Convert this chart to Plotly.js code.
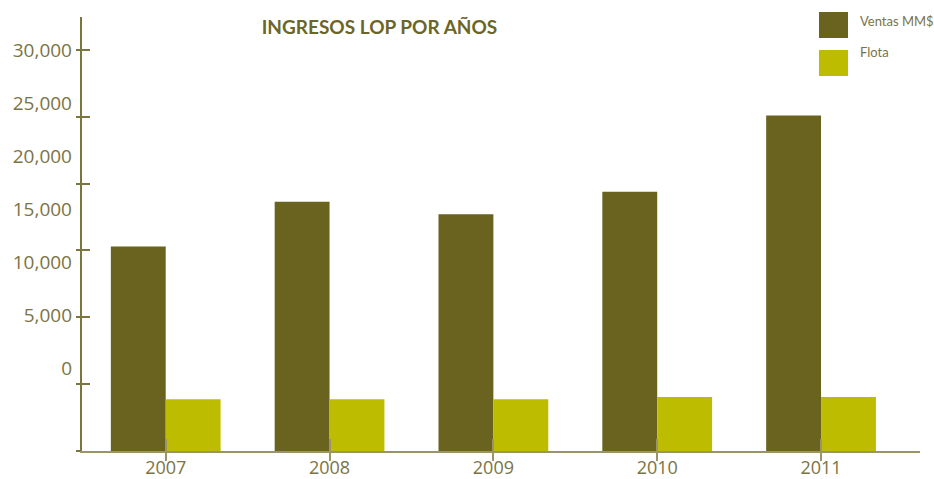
<!DOCTYPE html>
<html>
<head>
<meta charset="utf-8">
<script src="https://cdn.plot.ly/plotly-3.0.1.min.js"></script>
<style>html,body{margin:0;padding:0;background:#fff;}#chart{width:934px;height:479px;}</style>
</head>
<body>
<div id="chart"></div>
<script>
// ---- data ----
const years = ["2007", "2008", "2009", "2010", "2011"];
const ventas = [15300, 18650, 17700, 19400, 25100];
const flota = [3880, 3880, 3880, 4030, 4030];
const seriesNames = ["Ventas MM$", "Flota"];
const yTickValues = [0, 5000, 10000, 15000, 20000, 25000, 30000];
const yTickLabels = ["0", "5,000", "10,000", "15,000", "20,000", "25,000", "30,000"];
const titleText = "INGRESOS LOP POR AÑOS";

const dark = "#69631f";
const light = "#bdbc00";
const axisCol = "#7b7540";
const labelCol = "#7a7444";
const xLineCol = "#9a9468";

const idx = years.map((_, i) => i);

const traces = [
  {type: "bar", x: years, y: ventas, name: seriesNames[0], marker: {color: dark}, hoverinfo: "x+y+name"},
  {type: "bar", x: years, y: flota, name: seriesNames[1], marker: {color: light}, hoverinfo: "x+y+name"},
  // invisible helpers so the overlay axes (label axis and crossing ticks) get drawn
  {type: "scatter", mode: "none", x: idx, y: ventas, xaxis: "x2", yaxis: "y2", showlegend: false, hoverinfo: "skip"},
  {type: "scatter", mode: "none", x: years, y: ventas, xaxis: "x", yaxis: "y3", showlegend: false, hoverinfo: "skip"}
];

const layout = {
  width: 934, height: 479,
  margin: {l: 82, r: 14, t: 17, b: 28},
  paper_bgcolor: "#fff", plot_bgcolor: "#fff",
  showlegend: false,
  barmode: "group", bargap: 0.33, bargroupgap: 0,
  font: {family: "Open Sans", color: labelCol, size: 18},
  title: {text: titleText, x: 379.5 / 934, xanchor: "center", xref: "container", y: 1 - 27 / 479, yanchor: "middle", yref: "container",
          font: {family: "Lato", size: 19, color: "#6b6628", weight: 700}},
  xaxis: {type: "category", range: [-0.511, 4.604], showline: true, linecolor: xLineCol, linewidth: 2,
          ticks: "outside", ticklen: 8, tickcolor: xLineCol, tickwidth: 2, showgrid: false, zeroline: false,
          ticklabelstandoff: -9,
          tickfont: {family: "Open Sans", size: 18, color: labelCol}, fixedrange: true},
  xaxis2: {overlaying: "x", anchor: "y", type: "linear", range: [-0.511, 4.604], tickvals: idx, ticks: "inside",
           ticklen: 12, tickcolor: xLineCol, tickwidth: 2, showticklabels: false, showline: false, showgrid: false, zeroline: false},
  yaxis: {range: [0, 32463], tickvals: yTickValues, showticklabels: false, ticks: "outside", ticklen: 4,
          tickcolor: axisCol, tickwidth: 2, showline: true, linecolor: axisCol, linewidth: 2, showgrid: false, zeroline: false},
  yaxis3: {overlaying: "y", anchor: "x", side: "left", range: [0, 32463], tickvals: yTickValues, showticklabels: false,
           ticks: "inside", ticklen: 8, tickcolor: axisCol, tickwidth: 2, showline: false, showgrid: false, zeroline: false},
  yaxis2: {overlaying: "y", anchor: "x", side: "left", range: [-7805, 33102], tickvals: yTickValues, ticktext: yTickLabels,
           ticks: "", showline: false, showgrid: false, zeroline: false, ticklabelstandoff: 9,
           tickfont: {family: "Open Sans", size: 19, color: labelCol}},
  shapes: [
    {type: "rect", xref: "paper", yref: "paper", x0: (819 - 82) / 838, x1: (848 - 82) / 838,
     y0: (451 - 38) / 434, y1: (451 - 12) / 434, fillcolor: dark, line: {width: 0}},
    {type: "rect", xref: "paper", yref: "paper", x0: (819 - 82) / 838, x1: (848 - 82) / 838,
     y0: (451 - 76) / 434, y1: (451 - 50) / 434, fillcolor: light, line: {width: 0}}
  ],
  annotations: [
    {xref: "paper", yref: "paper", x: (858 - 82) / 838, y: (451 - 21) / 434, xanchor: "left", yanchor: "middle",
     text: seriesNames[0], showarrow: false, font: {family: "Lato", size: 13, color: "#7a7444"}},
    {xref: "paper", yref: "paper", x: (858 - 82) / 838, y: (451 - 52) / 434, xanchor: "left", yanchor: "middle",
     text: seriesNames[1], showarrow: false, font: {family: "Lato", size: 13, color: "#7a7444"}}
  ]
};

Plotly.newPlot("chart", traces, layout, {displayModeBar: false, staticPlot: true});
</script>
</body>
</html>
